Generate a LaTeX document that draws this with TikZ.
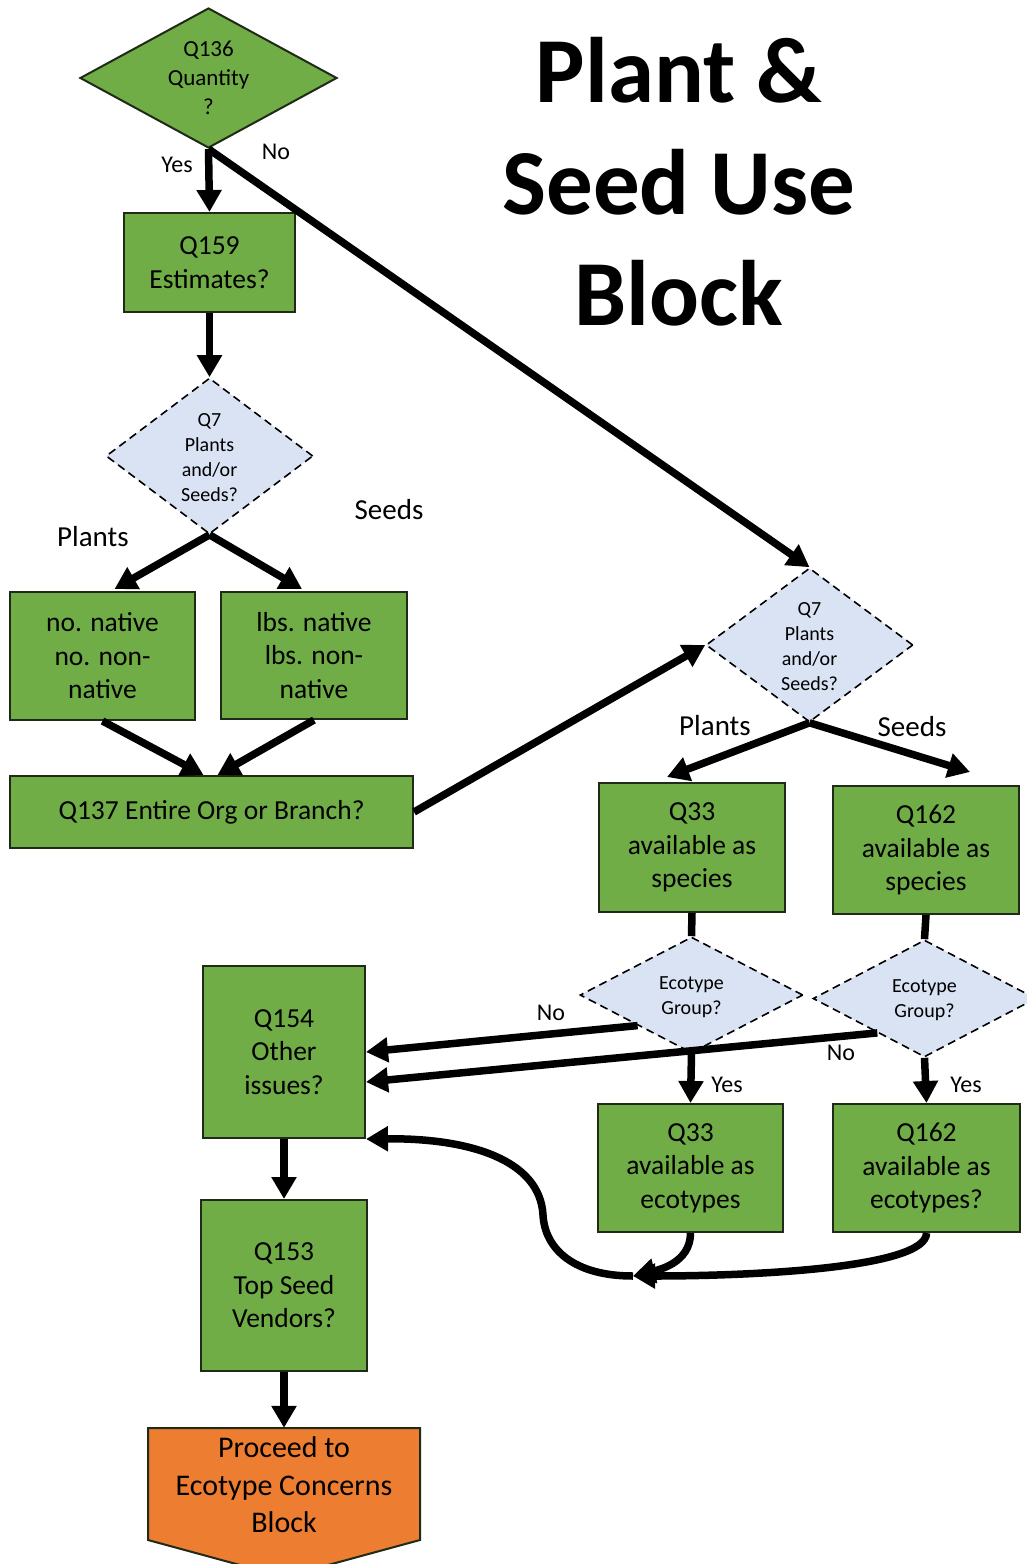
\documentclass[tikz,border=0pt]{standalone}
\usepackage{fontspec}
\setmainfont{Carlito}
\usetikzlibrary{shapes.geometric,arrows.meta,calc}
\definecolor{boxgreen}{HTML}{70AD47}
\definecolor{qblue}{HTML}{DAE3F3}
\definecolor{porange}{HTML}{ED7D31}
\definecolor{edgedark}{HTML}{1F2A17}
\begin{document}
\begin{tikzpicture}[x=1pt,y=-1pt,
  box/.style={draw=edgedark, line width=2pt, fill=boxgreen, rectangle, inner sep=0pt, align=center, font=\fontsize{27.5}{33.5}\selectfont},
  gdiam/.style={draw=edgedark, line width=2pt, fill=boxgreen, diamond, inner sep=0pt},
  bdiam/.style={draw=black, line width=1.6pt, dash pattern=on 8pt off 5pt, fill=qblue, diamond, inner sep=0pt},
  dtxt/.style={align=center, font=\fontsize{20}{25}\selectfont},
  arr/.style={line width=7.5pt, -{Triangle[length=22pt,width=24pt]}},
  conn/.style={line width=7.5pt},
  lbl/.style={font=\fontsize{24}{28}\selectfont},
  blbl/.style={font=\fontsize{29}{34}\selectfont},
]
\fill[white] (0,0) rectangle (1026,1564);
\useasboundingbox (0,0) rectangle (1026,1564);

% title
\node[font=\fontsize{93}{111.5}\selectfont\bfseries, align=center] (title) at (679,182) {Plant \&\\Seed Use\\Block};

% nodes
\node[gdiam, minimum width=257pt, minimum height=140pt] (q136) at (208.5,78) {};
\node[dtxt, font=\fontsize{23}{29}\selectfont] (q136t) at (q136) {Q136\\Quantity\\?};
\node[box, minimum width=171pt, minimum height=99pt] (q159) at (209.5,262.5) {Q159\\Estimates?};
\node[bdiam, minimum width=207pt, minimum height=156pt] (q7a) at (209.5,456) {};
\node[dtxt] (q7at) at ([yshift=-2pt]q7a.center) {Q7\\Plants\\and/or\\Seeds?};
\node[box, minimum width=185pt, minimum height=128pt] (nonat) at (102.5,656) {no. native\\no. non-\\native};
\node[box, minimum width=186pt, minimum height=127pt] (lbsnat) at (314,655.5) {lbs. native\\lbs. non-\\native};
\node[box, minimum width=403pt, minimum height=72pt] (q137) at (211.5,812) {Q137 Entire Org or Branch?};
\node[bdiam, minimum width=207pt, minimum height=154pt] (q7b) at (809.5,645) {};
\node[dtxt] (q7bt) at ([yshift=-2pt]q7b.center) {Q7\\Plants\\and/or\\Seeds?};
\node[box, minimum width=186pt, minimum height=129pt] (q33s) at (692,847.5) {Q33\\available as\\species};
\node[box, minimum width=186pt, minimum height=128pt] (q162s) at (926,850) {Q162\\available as\\species};
\node[bdiam, minimum width=223pt, minimum height=116pt] (eco1) at (691.5,995) {};
\node[dtxt] (eco1t) at ([yshift=-2pt]eco1.center) {Ecotype\\Group?};
\node[bdiam, minimum width=223pt, minimum height=117pt] (eco2) at (924.5,998.5) {};
\node[dtxt] (eco2t) at ([yshift=-2pt]eco2.center) {Ecotype\\Group?};
\node[box, minimum width=162pt, minimum height=172pt] (q154) at (284,1052) {Q154\\Other\\issues?};
\node[box, minimum width=185pt, minimum height=128pt] (q33e) at (690.5,1168) {Q33\\available as\\ecotypes};
\node[box, minimum width=187pt, minimum height=128pt] (q162e) at (926.5,1168) {Q162\\available as\\ecotypes?};
\node[box, minimum width=166pt, minimum height=171pt] (q153) at (284,1285.5) {Q153\\Top Seed\\Vendors?};
\draw[draw=edgedark, line width=2pt, fill=porange] (148,1428) -- (420,1428) -- (420,1540) -- (284,1577) -- (148,1540) -- cycle;
\node[align=center, font=\fontsize{30}{37.5}\selectfont, minimum width=272pt, minimum height=114pt, inner sep=0pt] (proceed) at (284,1485) {Proceed to\\Ecotype Concerns\\Block};

% edges
\draw[arr] (q136.south) -- (q159.north);
\draw[arr] (q136.south) -- (q7b.north);
\draw[arr] (q159.south) -- (q7a.north);
\draw[arr] (q7a.south) -- ($(nonat.north)+(12,-2)$);
\draw[arr] (q7a.south) -- ($(lbsnat.north)+(-12,-2)$);
\draw[arr] (nonat.south) -- ($(q137.north)+(-8,0)$);
\draw[arr] (lbsnat.south) -- ($(q137.north)+(6,0)$);
\draw[arr] (q137.east) -- (q7b.west);
\draw[arr] (q7b.south) -- ($(q33s.north)+(-25,-5)$);
\draw[arr] (q7b.south) -- ($(q162s.north)+(44,-13)$);
\draw[conn] (q33s.south) -- (eco1.north);
\draw[conn] (q162s.south) -- (eco2.north);
\draw[arr] ($(eco1.west)!0.52!(eco1.south)$) -- (q154.east);
\draw[arr] ($(eco2.west)!0.58!(eco2.south)$) -- ($(q154.east)+(0,30)$);
\draw[arr] (eco1.south) -- (q33e.north);
\draw[arr] (eco2.south) -- (q162e.north);
\draw[arr] (q154.south) -- (q153.north);
\draw[arr] (q153.south) -- (proceed.north);
\coordinate (merge) at (633,1276);
\draw[arr] (q33e.south) .. controls +(0,30) and +(25,-6) .. (merge);
\draw[arr] (q162e.south) .. controls +(0,35) and +(120,0) .. (merge);
\draw[arr] (merge) .. controls (575,1276) and (545,1250) .. (543,1215) .. controls (540,1160) and (470,1138) .. (q154.south east);

% labels
\node[lbl] (lyes1) at (177,165) {Yes};
\node[lbl] (lno1) at (276,152) {No};
\node[blbl] (lpl1) at (93,537) {Plants};
\node[blbl] (lse1) at (389,510) {Seeds};
\node[blbl] (lpl2) at (715,726) {Plants};
\node[blbl] (lse2) at (912,727) {Seeds};
\node[lbl] (lno2) at (551,1013) {No};
\node[lbl] (lno3) at (841,1053) {No};
\node[lbl] (lyes2) at (727,1085) {Yes};
\node[lbl] (lyes3) at (966,1085) {Yes};
\end{tikzpicture}
\end{document}
